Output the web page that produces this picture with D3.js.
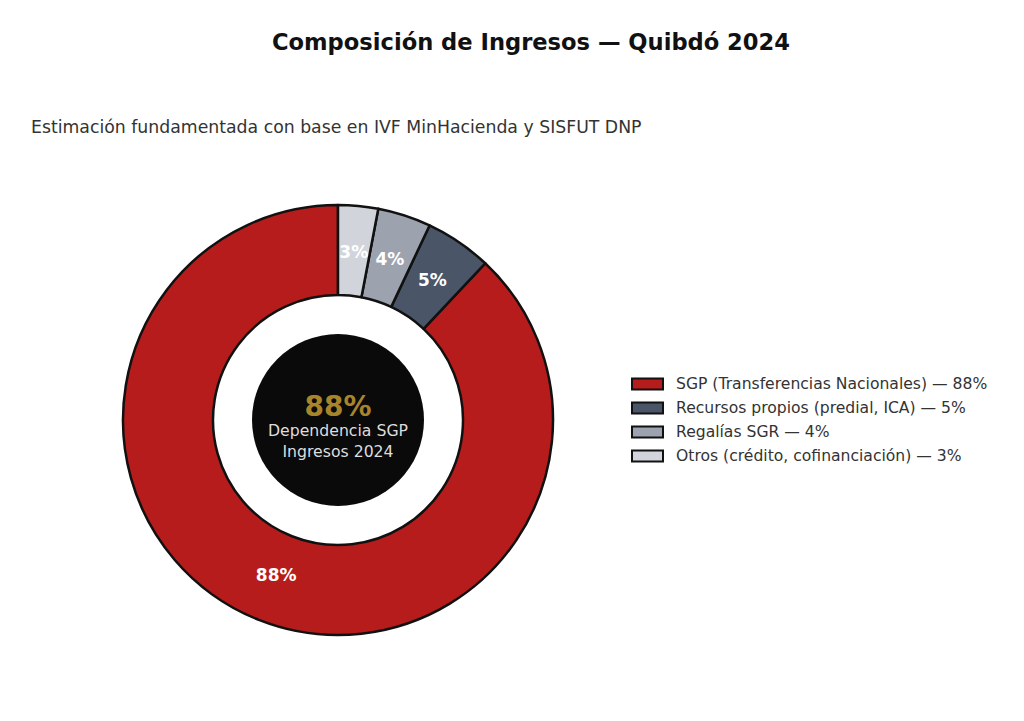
<!DOCTYPE html>
<html>
<head>
<meta charset="utf-8">
<script src="https://cdn.jsdelivr.net/npm/d3@7"></script>
<style>
  body { margin: 0; background: #fff; }
  text { font-family: "DejaVu Sans", sans-serif; }
</style>
</head>
<body>
<div id="chart"></div>
<script>
const categories = ["SGP (Transferencias Nacionales)", "Recursos propios (predial, ICA)", "Regalías SGR", "Otros (crédito, cofinanciación)"];
const shares = [88, 5, 4, 3];
const colors = ["#b71c1c", "#4a5568", "#9ca3af", "#d1d5db"];

const width = 1024, height = 721;
const cx = 338, cy = 420;
const outerR = 215, innerR = 125, coreR = 86;

const svg = d3.select("#chart").append("svg")
    .attr("width", width)
    .attr("height", height);

svg.append("text")
    .attr("x", 531).attr("y", 43)
    .attr("text-anchor", "middle").attr("dominant-baseline", "middle")
    .attr("font-size", 22.6).attr("font-weight", "bold").attr("fill", "#111")
    .text("Composición de Ingresos — Quibdó 2024");

svg.append("text")
    .attr("x", 31).attr("y", 128)
    .attr("dominant-baseline", "middle")
    .attr("font-size", 17.3).attr("fill", "#333")
    .text("Estimación fundamentada con base en IVF MinHacienda y SISFUT DNP");

// counter-clockwise from 12 o'clock, like matplotlib startangle=90
const pie = d3.pie().sort(null).value(d => d)
    .startAngle(0).endAngle(-2 * Math.PI);

const arc = d3.arc().innerRadius(innerR).outerRadius(outerR);
const labelArc = d3.arc().innerRadius(168).outerRadius(168);

const g = svg.append("g").attr("transform", `translate(${cx},${cy})`);
const arcs = pie(shares);

g.selectAll("path.slice")
    .data(arcs)
    .enter().append("path")
    .attr("class", "slice")
    .attr("d", arc)
    .attr("fill", (d, i) => colors[i])
    .attr("stroke", "#111")
    .attr("stroke-width", 2.5)
    .attr("stroke-linejoin", "round");

g.selectAll("text.pct")
    .data(arcs)
    .enter().append("text")
    .attr("class", "pct")
    .attr("transform", d => `translate(${labelArc.centroid(d)})`)
    .attr("text-anchor", "middle").attr("dominant-baseline", "middle")
    .attr("font-size", 17).attr("font-weight", "bold").attr("fill", "#fff")
    .text(d => d.data + "%");

g.append("circle").attr("r", coreR).attr("fill", "#0a0a0a");

g.append("text")
    .attr("y", -12)
    .attr("text-anchor", "middle").attr("dominant-baseline", "middle")
    .attr("font-size", 28).attr("font-weight", "bold").attr("fill", "#a8842a")
    .text(shares[0] + "%");

g.append("text")
    .attr("y", 11)
    .attr("text-anchor", "middle").attr("dominant-baseline", "middle")
    .attr("font-size", 15.7).attr("fill", "#dddddd")
    .text("Dependencia SGP");

g.append("text")
    .attr("y", 32)
    .attr("text-anchor", "middle").attr("dominant-baseline", "middle")
    .attr("font-size", 15.7).attr("fill", "#dddddd")
    .text("Ingresos 2024");

const legend = svg.append("g").attr("transform", "translate(632,384)");
const rows = legend.selectAll("g.row")
    .data(categories)
    .enter().append("g")
    .attr("class", "row")
    .attr("transform", (d, i) => `translate(0,${i * 24})`);

rows.append("rect")
    .attr("x", 0).attr("y", -5.5)
    .attr("width", 31).attr("height", 11)
    .attr("fill", (d, i) => colors[i])
    .attr("stroke", "#111").attr("stroke-width", 2);

rows.append("text")
    .attr("x", 44).attr("y", 0)
    .attr("dominant-baseline", "middle")
    .attr("font-size", 15.6).attr("fill", "#333")
    .text((d, i) => `${d} — ${shares[i]}%`);
</script>
</body>
</html>
